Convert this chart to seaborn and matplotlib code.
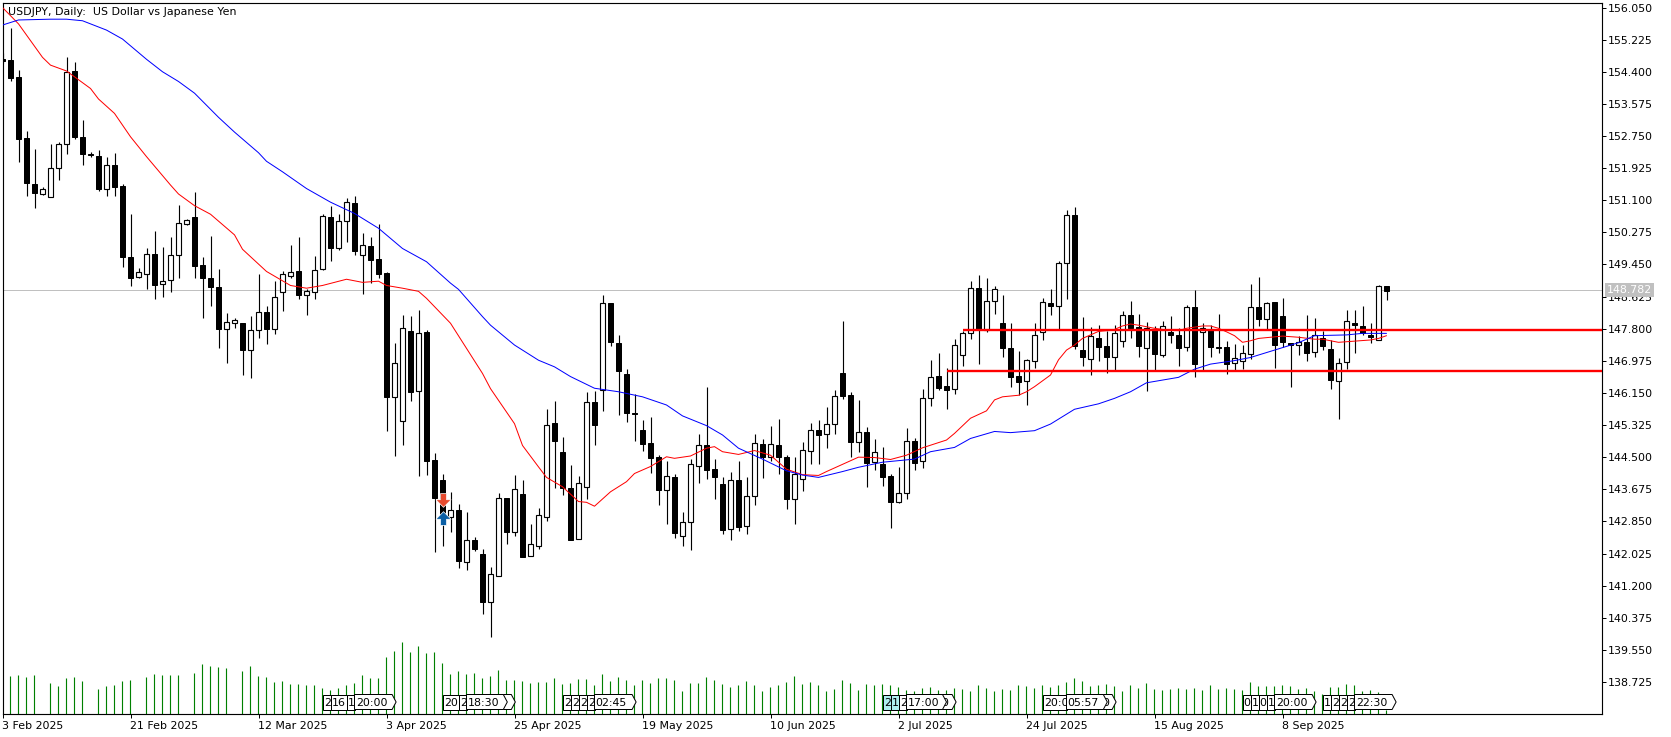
import numpy as np
import pandas as pd
import matplotlib
matplotlib.use("Agg")
import matplotlib.pyplot as plt
from matplotlib.patches import Polygon
from matplotlib.transforms import blended_transform_factory
import seaborn as sns

high = [154.87,155.52,154.44,152.88,152.42,151.43,152.54,152.59,154.78,154.65,153.16,152.35,152.39,152.22,152.31,151.52,150.75,149.36,149.87,150.31,149.90,150.15,150.98,150.61,151.31,149.64,150.18,149.33,148.20,148.07,147.95,148.12,149.20,148.37,149.03,149.28,149.95,150.16,148.81,149.67,150.74,150.95,150.75,151.15,151.21,150.26,150.15,150.48,149.25,147.43,148.15,148.13,148.28,147.77,
144.61,144.08,143.60,143.30,143.09,142.45,142.14,141.68,143.58,143.45,144.04,143.91,142.78,143.20,145.74,145.94,
145.02,144.29,144.01,146.17,146.20,148.66,148.46,147.65,146.76,146.12,145.45,145.53,144.55,144.41,144.08,143.08,144.45,145.09,146.30,144.45,143.98,144.12,144.40,143.98,145.09,144.97,145.30,145.48,144.55,144.50,144.89,145.37,145.45,145.79,146.22,148.01,146.17,145.97,145.27,144.97,144.76,144.06,144.25,145.24,144.98,146.24,146.99,147.17,146.78,147.53,147.75,149.02,149.18,149.09,148.90,148.67,147.94,147.23,147.02,
147.95,148.58,148.82,149.54,150.85,150.92,148.10,147.84,147.89,147.74,147.89,148.25,148.51,148.18,147.97,147.87,148.00,148.13,147.82,148.40,148.79,147.94,147.89,148.18,147.48,147.40,147.38,148.95,149.13,148.49,148.49,148.59,147.44,147.61,148.15,148.07,147.73,147.51,147.04,148.27,148.28,148.38,147.95,148.91,148.90]

low = [154.62,154.15,152.09,151.22,150.91,151.23,151.17,151.62,152.30,152.67,152.01,152.22,151.34,151.22,151.22,149.39,148.90,149.10,148.83,148.55,148.62,148.73,149.09,150.46,149.09,148.08,148.39,147.31,146.93,147.83,146.62,146.53,147.57,147.41,147.67,148.26,149.09,148.57,148.16,148.57,149.32,149.55,149.82,150.03,149.68,148.69,148.97,149.09,145.18,144.54,144.82,145.95,144.01,144.03,
142.07,142.22,142.59,141.64,141.61,142.10,140.48,139.89,141.44,142.28,142.48,141.94,141.95,142.14,142.87,143.72,
143.53,142.36,142.39,143.42,144.81,145.69,147.36,145.58,145.40,144.91,144.66,144.10,143.27,142.78,142.43,142.22,142.12,143.84,143.94,143.43,142.53,142.38,142.60,142.53,143.27,143.97,144.41,144.07,143.17,142.78,143.63,144.33,144.33,144.73,145.10,145.99,144.50,144.62,143.73,144.17,143.76,142.69,143.33,143.43,144.18,144.22,145.81,146.23,145.74,146.12,146.84,147.53,146.89,147.71,148.18,147.06,146.30,146.09,145.84,
146.79,147.51,148.15,147.79,148.56,147.28,146.84,146.61,146.97,146.67,146.74,147.33,147.56,147.08,146.20,146.73,147.08,147.43,146.84,147.22,146.57,146.74,147.06,147.17,146.64,146.72,146.76,147.02,147.87,147.78,146.80,147.34,146.31,147.12,146.97,147.08,147.25,146.25,145.49,146.76,147.18,147.64,147.44,147.51,148.54]

open_ = [154.74,154.69,154.26,152.69,151.51,151.27,151.19,151.94,152.54,154.41,152.72,152.30,152.24,151.38,152.00,151.46,149.63,149.12,149.20,149.71,148.94,149.04,149.70,150.49,150.66,149.43,149.10,148.86,147.80,147.95,147.94,147.24,147.76,148.22,147.78,148.75,149.16,149.27,148.67,148.75,149.33,150.66,149.86,150.56,151.02,149.70,149.92,149.58,149.23,146.04,145.42,147.73,146.19,147.72,
144.42,143.91,142.97,143.13,141.80,142.36,142.00,140.79,141.45,143.44,142.59,143.55,141.97,142.22,142.95,145.39,
144.63,143.70,142.41,143.74,145.91,146.22,148.45,147.42,146.63,145.63,145.20,144.86,144.50,143.65,143.98,142.47,142.83,144.26,144.80,144.20,143.81,142.65,143.91,142.72,143.49,144.83,144.50,144.80,144.50,143.43,143.93,144.67,145.21,145.09,145.34,146.65,146.09,144.88,145.14,144.37,144.32,144.02,143.36,143.59,144.91,144.39,146.01,146.58,146.32,146.24,147.13,147.70,148.84,147.77,148.50,147.94,147.30,146.58,146.45,
146.98,147.71,148.45,148.37,149.48,150.71,147.25,147.03,147.55,147.36,147.08,147.49,148.14,147.84,147.31,147.77,147.13,147.72,147.65,147.32,148.35,147.72,147.76,147.33,147.32,146.91,146.98,147.16,148.35,148.06,148.48,148.12,147.42,147.39,147.45,147.19,147.55,147.27,146.45,146.94,147.94,147.86,147.65,147.52,148.90]

close = [154.68,154.25,152.68,151.53,151.29,151.40,151.94,152.54,154.40,152.73,152.30,152.27,151.40,152.00,151.45,149.65,149.11,149.25,149.71,148.93,149.02,149.68,150.51,150.58,149.42,149.09,148.88,147.80,147.96,148.02,147.26,147.76,148.24,147.79,148.61,149.20,149.25,148.67,148.76,149.30,150.69,149.88,150.56,151.05,149.80,149.94,149.57,149.21,146.05,146.91,147.81,146.18,147.68,144.41,
143.46,143.05,143.13,141.82,142.36,142.15,140.79,141.49,143.44,142.59,143.67,141.94,142.26,143.01,145.32,144.92,
143.71,142.38,143.83,145.91,145.33,148.45,147.47,146.72,145.64,145.62,144.85,144.48,143.66,144.01,142.56,142.84,144.32,144.80,144.18,144.00,142.64,143.91,142.71,143.49,144.86,144.51,144.83,144.51,143.43,144.06,144.69,145.21,145.08,145.34,146.06,146.08,144.90,145.15,144.36,144.64,144.00,143.36,143.57,144.91,144.36,146.01,146.55,146.28,146.23,147.39,147.68,148.84,147.78,148.50,148.81,147.30,146.57,146.44,146.99,
147.65,148.48,148.37,149.48,150.71,147.36,147.06,147.60,147.34,147.08,147.68,148.14,147.83,147.36,147.81,147.16,147.86,147.65,147.31,148.35,146.90,147.81,147.34,147.31,146.90,147.04,147.17,148.35,148.06,148.47,147.39,147.47,147.39,147.46,147.18,147.65,147.36,146.47,146.93,147.99,147.90,147.68,147.59,148.89,148.78]

volume = [0,112,115,109,115,0,91,82,106,109,97,0,73,82,85,97,100,0,109,118,115,115,115,0,121,148,142,139,136,0,127,142,112,109,94,97,88,88,85,85,76,70,76,85,91,115,106,106,169,187,214,184,202,181,184,151,118,127,118,121,106,112,130,100,100,97,91,94,94,107,
89,92,103,103,85,118,97,109,100,85,100,91,106,106,100,67,91,91,109,100,88,79,85,97,85,67,79,85,94,112,88,94,85,67,73,100,91,70,88,85,88,85,79,70,67,76,79,70,70,76,73,67,85,76,67,73,70,85,82,76,85,79,85,94,106,97,82,85,88,82,67,85,76,91,73,70,73,76,73,76,70,85,73,76,73,70,94,82,82,82,85,82,73,76,67,60,79,79,88,85,67,70,64,10]

red_bars = [0,2,5,6,8,11,12,14,16,18,21,22,24,26,29,30,33,36,38,40,43,45,47,48,50,52,53,56,60,61,64,65,67,68,70,72,73,74,76,78,79,81,83,84,86,88,89,90,92,94,96,98,100,102,103,107,109,111,113,115,118,119,121,123,124,125,127,128,129,130,131,132,133,134,135,136,137,138,139,140,141,142,143,144,145,146,147,148,149,150,151,152,153,154,155,156,157,159,160,162,164,165,167,169,171,172,173]
red_ma = [156.05,155.63,154.77,154.57,154.42,153.97,153.70,153.33,152.73,152.22,151.49,151.26,150.96,150.74,150.21,149.84,149.27,148.91,148.84,148.91,149.07,148.99,149.02,148.91,148.84,148.76,148.58,147.94,146.65,146.26,145.36,144.80,144.25,143.98,143.74,143.36,143.34,143.24,143.61,143.87,144.08,144.26,144.51,144.47,144.53,144.73,144.77,144.64,144.57,144.67,144.55,144.19,144.05,144.03,144.13,144.50,144.49,144.44,144.55,144.74,144.94,145.11,145.50,145.69,145.97,146.05,146.09,146.18,146.31,146.46,146.61,147.00,147.25,147.38,147.55,147.64,147.73,147.75,147.78,147.87,147.92,147.89,147.85,147.81,147.78,147.77,147.75,147.81,147.84,147.87,147.87,147.81,147.72,147.62,147.45,147.49,147.55,147.59,147.61,147.58,147.53,147.53,147.45,147.48,147.51,147.55,147.62]

blue_bars = [0,2,6,8,10,13,15,18,20,22,24,27,29,32,33,35,38,41,44,47,50,53,56,57,60,61,64,67,69,71,74,77,80,83,85,88,90,92,95,98,100,102,105,107,110,114,116,119,121,124,126,129,131,134,137,139,141,143,147,149,151,154,156,159,162,164,168,170,173]
blue_ma = [155.60,155.73,155.75,155.75,155.71,155.47,155.24,154.72,154.40,154.15,153.85,153.23,152.85,152.32,152.10,151.83,151.40,151.05,150.76,150.38,149.86,149.52,148.97,148.81,148.11,147.89,147.38,146.99,146.82,146.57,146.27,146.18,146.05,145.84,145.56,145.31,145.07,144.73,144.45,144.15,144.04,143.98,144.13,144.24,144.37,144.45,144.64,144.75,144.98,145.16,145.13,145.18,145.35,145.73,145.87,146.01,146.18,146.41,146.55,146.76,146.89,146.98,147.06,147.25,147.44,147.62,147.64,147.68,147.68]

level_prices = [147.771, 146.72]
level_start_bars = [120, 118]
last_price = 148.782
tick_prices = ["156.050","155.225","154.400","153.575","152.750","151.925","151.100","150.275","149.450","148.625","147.800","146.975","146.150","145.325","144.500","143.675","142.850","142.025","141.200","140.375","139.550","138.725"]
date_bars = [0,16,32,48,64,80,96,112,128,144,160]
date_labels = ["3 Feb 2025","21 Feb 2025","12 Mar 2025","3 Apr 2025","25 Apr 2025","19 May 2025","10 Jun 2025","2 Jul 2025","24 Jul 2025","15 Aug 2025","8 Sep 2025"]
title = "USDJPY, Daily:  US Dollar vs Japanese Yen"
# event tags: start bar, width in bars, visible text, has tip, fill
tags = [(40,1,"2",0,"w"),(41,2,"16",0,"w"),(43,1,"1",0,"w"),(44,4.7,"20:00",1,"w"),
        (62,1.6,"0",1,"w"),(55,2,"20",0,"w"),(57,1,"2",0,"w"),(58,4.6,"18:30",1,"w"),
        (70,1,"2",0,"w"),(71,1,"2",0,"w"),(72,1,"2",0,"w"),(73,1,"2",0,"w"),(74,4.7,"02:45",1,"w"),
        (117.2,1.5,"0",1,"w"),(110,1,"2",0,"#aeeeee"),(111,1,"1",0,"#aeeeee"),(112,1,"2",0,"w"),(113,4.5,"17:00",1,"w"),
        (137.3,1.4,"0",1,"w"),(130,3,"20:0",0,"w"),(133,4.6,"05:57",1,"w"),
        (155,1,"0",0,"w"),(156,1,"1",0,"w"),(157,1,"0",0,"w"),(158,1,"1",0,"w"),(159,4.7,"20:00",1,"w"),
        (165,1,"1",0,"w"),(166,1,"2",0,"w"),(167,1,"2",0,"w"),(168,1,"2",0,"w"),(169,4.7,"22:30",1,"w")]

sns.set_theme(style="white")
plt.rcParams["font.family"] = ["DejaVu Sans"]
FS = 7.9
PX = 0.72
W, H = 1671, 737
fig = plt.figure(figsize=(W/100, H/100), dpi=100, facecolor="white")
L, R, T, B = 2.5, 1601.5, 2.5, 713.5
ax = fig.add_axes([L/W, 1-B/H, (R-L)/W, (B-T)/H])
ax.set_facecolor("white")
def p_of(y): return 156.243 - y/38.93
ax.set_xlim(0, (R-L)/8)
ax.set_ylim(p_of(B), p_of(T))

df = pd.DataFrame({"bar": np.arange(len(high)), "high": high, "low": low,
                   "open": open_, "close": close, "volume": volume})
up = df.close >= df.open

# volume
ax2 = ax.twinx()
ax2.set_ylim(0, (B-T)*3)
ax2.set_axis_off()
ax2.vlines(df.bar, 0, df.volume, color="#008000", lw=PX+0.1, zorder=1)
ax.set_zorder(ax2.get_zorder()+1)
ax.patch.set_visible(False)

ax.axhline(last_price, color="#c0c0c0", lw=PX, zorder=1)
ax.vlines(df.bar, df.low, df.high, color="black", lw=PX+0.1, zorder=2)
tops = df[["open", "close"]].max(axis=1)
bots = df[["open", "close"]].min(axis=1)
ax.bar(df.bar[up], (tops-bots)[up], bottom=bots[up], width=0.56, facecolor="white",
       edgecolor="black", lw=PX+0.1, zorder=3)
ax.bar(df.bar[~up], (tops-bots)[~up], bottom=bots[~up], width=0.62, facecolor="black",
       edgecolor="black", lw=PX, zorder=3)

sns.lineplot(x=red_bars, y=red_ma, color="#ff0000", lw=PX, ax=ax, zorder=4, legend=False, errorbar=None, sort=False)
sns.lineplot(x=blue_bars, y=blue_ma, color="#0000ff", lw=PX, ax=ax, zorder=4, legend=False, errorbar=None, sort=False)
for price, start in zip(level_prices, level_start_bars):
    ax.hlines(price, start, (R-L)/8, color="#ff0000", lw=1.7, zorder=5)

# signal arrows on one April bar
down = [(-1,.1),(-.4,.1),(-.4,.9),(.4,.9),(.4,.1),(1,.1),(0,-.9),(-1,.1)]
upa = [(x,-y) for x,y in down]
ax.scatter([55],[p_of(500)],marker=down,s=120,color="#e64a2e",edgecolor="white",lw=.5,zorder=6)
ax.scatter([55],[p_of(518)],marker=upa,s=120,color="#0b5fa5",edgecolor="white",lw=.5,zorder=6)

# tags
y0, y1 = p_of(709.5), p_of(694.5)
ym = (y0+y1)/2
for k,(b,w,txt,tip,fc) in enumerate(tags):
    x0, x1 = b, b+w
    pts = [(x0,y0),(x0,y1),(x1,y1),(x1+0.5,ym),(x1,y0)] if tip else [(x0,y0),(x0,y1),(x1,y1),(x1,y0)]
    ax.add_patch(Polygon(pts, closed=True, facecolor=fc, edgecolor="black", lw=PX, zorder=7+k*0.01))
    ax.text(b+0.15, ym, txt, fontsize=FS, ha="left", va="center_baseline", color="black", zorder=7+k*0.01+0.005, clip_on=True)

ax.set_yticks([float(t) for t in tick_prices])
ax.set_yticklabels(tick_prices, fontsize=FS, color="black")
ax.yaxis.tick_right()
ax.tick_params(axis="y", which="major", direction="out", length=2.6, width=PX, pad=1.6, color="black", right=True, left=False)
ax.set_xticks(date_bars)
ax.set_xticklabels(date_labels, fontsize=FS, ha="left", color="black")
ax.tick_params(axis="x", which="major", direction="out", length=3.2, width=PX, pad=2.5, color="black", bottom=True)
for s in ax.spines.values():
    s.set_visible(True); s.set_color("black"); s.set_linewidth(PX+0.1)
ax.grid(False)

tr = blended_transform_factory(ax.transAxes, ax.transData)
ax.text(1+5.0/(R-L), last_price, f"{last_price:.3f}", transform=tr, fontsize=FS, color="white", ha="left",
        va="center", clip_on=False, zorder=20,
        bbox=dict(boxstyle="square,pad=0.18", facecolor="#c0c0c0", edgecolor="#c0c0c0", lw=0))
fig.text(8/W, 1-12/H, title, fontsize=FS, color="black", ha="left", va="center")

fig.savefig("out.png", dpi=100, facecolor="white")
